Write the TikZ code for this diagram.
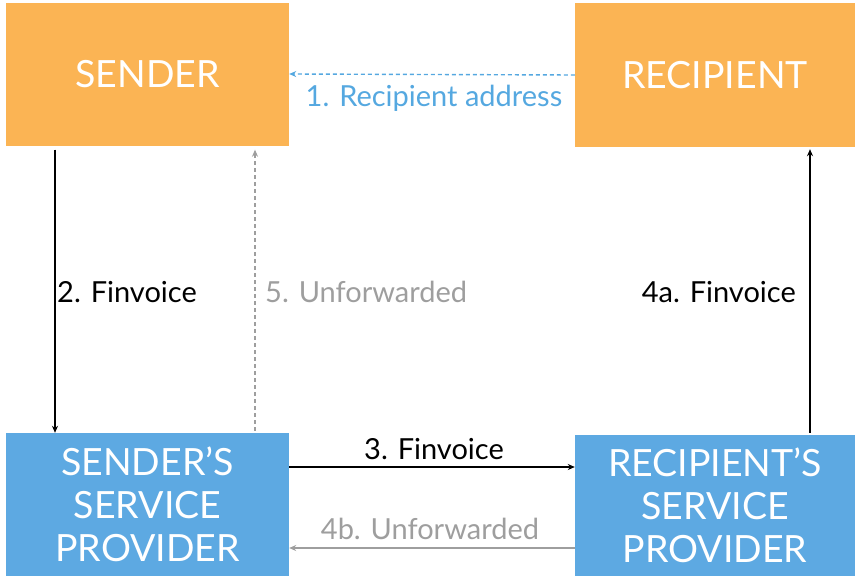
\documentclass[tikz,border=0pt]{standalone}
\usepackage{fontspec}
\setmainfont{Lato}
\usepackage{tikz}
\usetikzlibrary{arrows.meta, positioning, calc}
\definecolor{boxorange}{RGB}{251,180,84}
\definecolor{boxblue}{RGB}{93,169,226}
\definecolor{lineblue}{RGB}{85,168,224}
\definecolor{linegray}{RGB}{158,158,158}
\tikzset{
  party box/.style={
    rectangle, fill=boxorange, draw=none,
    minimum width=283pt, minimum height=143pt,
    text=white, font=\fontsize{37.5}{42}\selectfont,
    align=center, inner sep=0pt
  },
  sp box/.style={
    party box, fill=boxblue,
    font=\fontsize{37.5}{43}\selectfont
  },
  flow arrow/.style={
    -{Stealth[length=7pt,width=6pt]}, line width=1.4pt, draw=black
  },
  gray arrow/.style={
    flow arrow, draw=linegray
  },
  blue arrow/.style={
    flow arrow, draw=lineblue
  },
  flow label/.style={
    font=\fontsize{29}{33}\selectfont, inner sep=0pt
  }
}

\begin{document}
\begin{tikzpicture}[x=1pt, y=-1pt]
  \useasboundingbox (0,0) rectangle (855,576);

  \node (sender) [party box] at (147.5,74) {SENDER};
  \node (recipient) [party box, minimum width=280pt, minimum height=144pt] at (715,75) {RECIPIENT};
  \node (ssp) [sp box] at (147.5,504.5) {SENDER'S\\SERVICE\\PROVIDER};
  \node (rsp) [sp box, minimum width=280pt, minimum height=141pt] at (715,505.5) {RECIPIENT'S\\SERVICE\\PROVIDER};

  % message flows
  \draw [blue arrow, dash pattern=on 4pt off 3pt] (recipient.west) -- (sender.east);
  \draw [flow arrow] ([xshift=-92.5pt,yshift=-4pt]sender.south) -- ([xshift=-92.5pt]ssp.north);
  \draw [gray arrow, dash pattern=on 4pt off 3pt] ([xshift=107.5pt,yshift=2pt]ssp.north) -- ([xshift=107.5pt,yshift=-4pt]sender.south);
  \draw [flow arrow] ([yshift=37.5pt]ssp.east) -- ([yshift=38.5pt]rsp.west);
  \draw [flow arrow] ([xshift=95pt,yshift=2pt]rsp.north) -- ([xshift=95pt,yshift=-2pt]recipient.south);
  \draw [gray arrow] ([yshift=-42.5pt]rsp.west) -- ([yshift=-43.5pt]ssp.east);

  % labels
  \node (l1) [flow label, text=lineblue] at (434,98) {1. Recipient address};
  \node (l2) [flow label, anchor=west] at (57,292) {2. Finvoice};
  \node (l3) [flow label] at (434,449) {3. Finvoice};
  \node (l4a) [flow label, anchor=east] at (796,292) {4a. Finvoice};
  \node (l4b) [flow label, text=linegray] at (430,529) {4b. Unforwarded};
  \node (l5) [flow label, anchor=west, text=linegray] at (265,292) {5. Unforwarded};
\end{tikzpicture}
\end{document}
